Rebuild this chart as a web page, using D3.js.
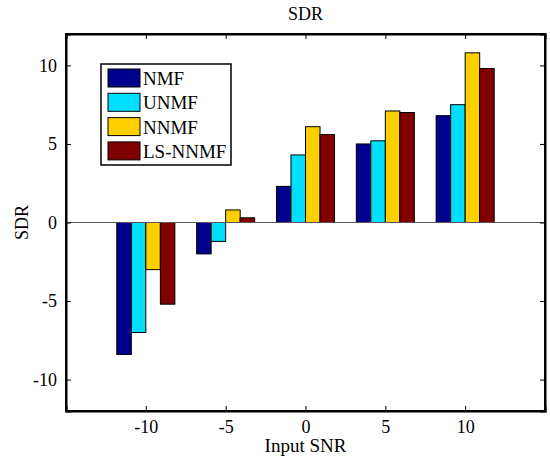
<html>
<head>
<meta charset="utf-8">
<title>SDR</title>
<style>
  body {margin: 0; background: #fff;}
  svg {font-family: "Liberation Serif", "Times New Roman", serif;}
</style>
</head>
<body>
<svg></svg>
<script src="https://d3js.org/d3.v7.min.js"></script>
<script>
const snr = [-10, -5, 0, 5, 10];
const methods = ["NMF", "UNMF", "NNMF", "LS-NNMF"];
const nmf = [-8.4, -2.0, 2.3, 5.0, 6.8];
const unmf = [-7.0, -1.2, 4.3, 5.2, 7.5];
const nnmf = [-3.0, 0.8, 6.1, 7.1, 10.8];
const lsnnmf = [-5.2, 0.3, 5.6, 7.0, 9.8];
const yTicks = [-10, -5, 0, 5, 10];
const colors = ["#00008f", "#00dfff", "#ffcf00", "#800000"];

const series = [nmf, unmf, nnmf, lsnnmf];
const width = 550, height = 458;
const margin = {left: 66, right: 5, top: 34, bottom: 47};

const svg = d3.select("svg").attr("width", width).attr("height", height);

const x = d3.scaleLinear().domain([-15, 15]).range([margin.left, width - margin.right]);
const y = d3.scaleLinear().domain([-12, 12]).range([height - margin.bottom, margin.top]);

// grouped bars, matlab style: group width 4/5.5 of spacing
const groupW = 5 * 4 / 5.5;
const barW = groupW / methods.length;

const g = svg.append("g");
series.forEach((vals, i) => {
  g.selectAll(".s" + i)
    .data(vals)
    .enter()
    .append("rect")
    .attr("x", (d, j) => x(snr[j] - groupW / 2 + i * barW))
    .attr("width", x(barW) - x(0))
    .attr("y", d => y(Math.max(d, 0)))
    .attr("height", d => Math.abs(y(d) - y(0)))
    .attr("fill", colors[i])
    .attr("stroke", "#000")
    .attr("stroke-width", 1);
});

// baseline
svg.append("line")
  .attr("x1", x(-15)).attr("x2", x(15))
  .attr("y1", y(0)).attr("y2", y(0))
  .attr("stroke", "#555").attr("stroke-width", 1);

// axes with inward ticks, plain hyphen for negatives
const fmt = d => String(d);
const axBottom = svg.append("g").attr("transform", `translate(0,${y(-12)})`)
  .call(d3.axisBottom(x).tickValues(snr).tickSize(-5).tickPadding(9).tickFormat(fmt));
const axTop = svg.append("g").attr("transform", `translate(0,${y(12)})`)
  .call(d3.axisTop(x).tickValues(snr).tickSize(-5).tickFormat(""));
const axLeft = svg.append("g").attr("transform", `translate(${x(-15)},0)`)
  .call(d3.axisLeft(y).tickValues(yTicks).tickSize(-5).tickPadding(9).tickFormat(fmt));
const axRight = svg.append("g").attr("transform", `translate(${x(15)},0)`)
  .call(d3.axisRight(y).tickValues(yTicks).tickSize(-5).tickFormat(""));

[axBottom, axTop, axLeft, axRight].forEach(a => {
  a.select(".domain").attr("stroke", "#000").attr("stroke-width", 2);
  a.selectAll(".tick line").attr("stroke", "#000").attr("stroke-width", 1);
  a.selectAll("text").attr("font-family", "Liberation Serif").attr("font-size", "18px").attr("fill", "#000");
});
svg.append("rect")
  .attr("x", x(-15)).attr("y", y(12))
  .attr("width", x(15) - x(-15)).attr("height", y(-12) - y(12))
  .attr("fill", "none").attr("stroke", "#000").attr("stroke-width", 2);

// titles
svg.append("text").attr("x", x(0)).attr("y", 20).attr("text-anchor", "middle")
  .attr("font-size", "18px").text("SDR");
svg.append("text").attr("x", x(0)).attr("y", 452).attr("text-anchor", "middle")
  .attr("font-size", "19px").text("Input SNR");
svg.append("text").attr("transform", `translate(28,${y(0)}) rotate(-90)`)
  .attr("text-anchor", "middle").attr("font-size", "18px").text("SDR");

// legend
const lg = svg.append("g").attr("transform", "translate(101,64)");
lg.append("rect").attr("width", 130).attr("height", 101)
  .attr("fill", "#fff").attr("stroke", "#000").attr("stroke-width", 1.5);
methods.forEach((m, i) => {
  const row = lg.append("g").attr("transform", `translate(7,${5 + i * 24.3})`);
  row.append("rect").attr("width", 32).attr("height", 18)
    .attr("fill", colors[i]).attr("stroke", "#000").attr("stroke-width", 1);
  row.append("text").attr("x", 35).attr("y", 16).attr("font-size", "19px").text(m);
});
</script>
</body>
</html>
